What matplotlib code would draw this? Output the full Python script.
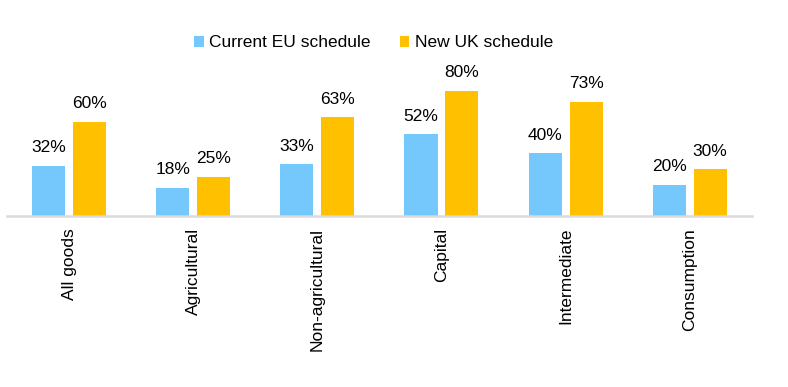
import matplotlib

matplotlib.use("Agg")
import matplotlib.pyplot as plt  # noqa: E402
import numpy as np  # noqa: E402

categories = ["All goods", "Agricultural", "Non-agricultural", "Capital",
              "Intermediate", "Consumption"]
current_eu = [32, 18, 33, 52, 40, 20]
new_uk = [60, 25, 63, 80, 73, 30]

plt.rcParams["font.family"] = ["Liberation Sans", "DejaVu Sans"]

fig = plt.figure(figsize=(7.88, 3.87), dpi=100)
ax = fig.add_axes([0.009, 0.442, 0.945, 0.405])

x = np.arange(len(categories))
w = 0.266
off = 0.165
b1 = ax.bar(x - off, current_eu, width=w, color="#75C8FC", label="Current EU schedule")
b2 = ax.bar(x + off, new_uk, width=w, color="#FFC000", label="New UK schedule")

for bars, vals in ((b1, current_eu), (b2, new_uk)):
    for r, v in zip(bars, vals):
        ax.annotate(f"{v}%", (r.get_x() + r.get_width() / 2, r.get_height()),
                    xytext=(0, 7.5), textcoords="offset points",
                    ha="center", va="bottom", fontsize=12.5, color="#000000")

ax.set_xlim(-0.5, len(categories) - 0.5)
ax.set_ylim(0, 100)
ax.set_xticks(x)
ax.set_xticklabels(categories, rotation=90, fontsize=12.5)
ax.tick_params(axis="x", length=0, pad=8.5)
ax.set_yticks([])
for s in ("top", "right", "left"):
    ax.spines[s].set_visible(False)
ax.spines["bottom"].set_color("#D9D9D9")
ax.spines["bottom"].set_linewidth(1.8)

fig.legend(loc="center", bbox_to_anchor=(0.474, 0.889), ncol=2, frameon=False,
           fontsize=12.5, handlelength=0.55, handleheight=0.55, handletextpad=0.3,
           columnspacing=1.7)

fig.savefig("out.png", dpi=100)
